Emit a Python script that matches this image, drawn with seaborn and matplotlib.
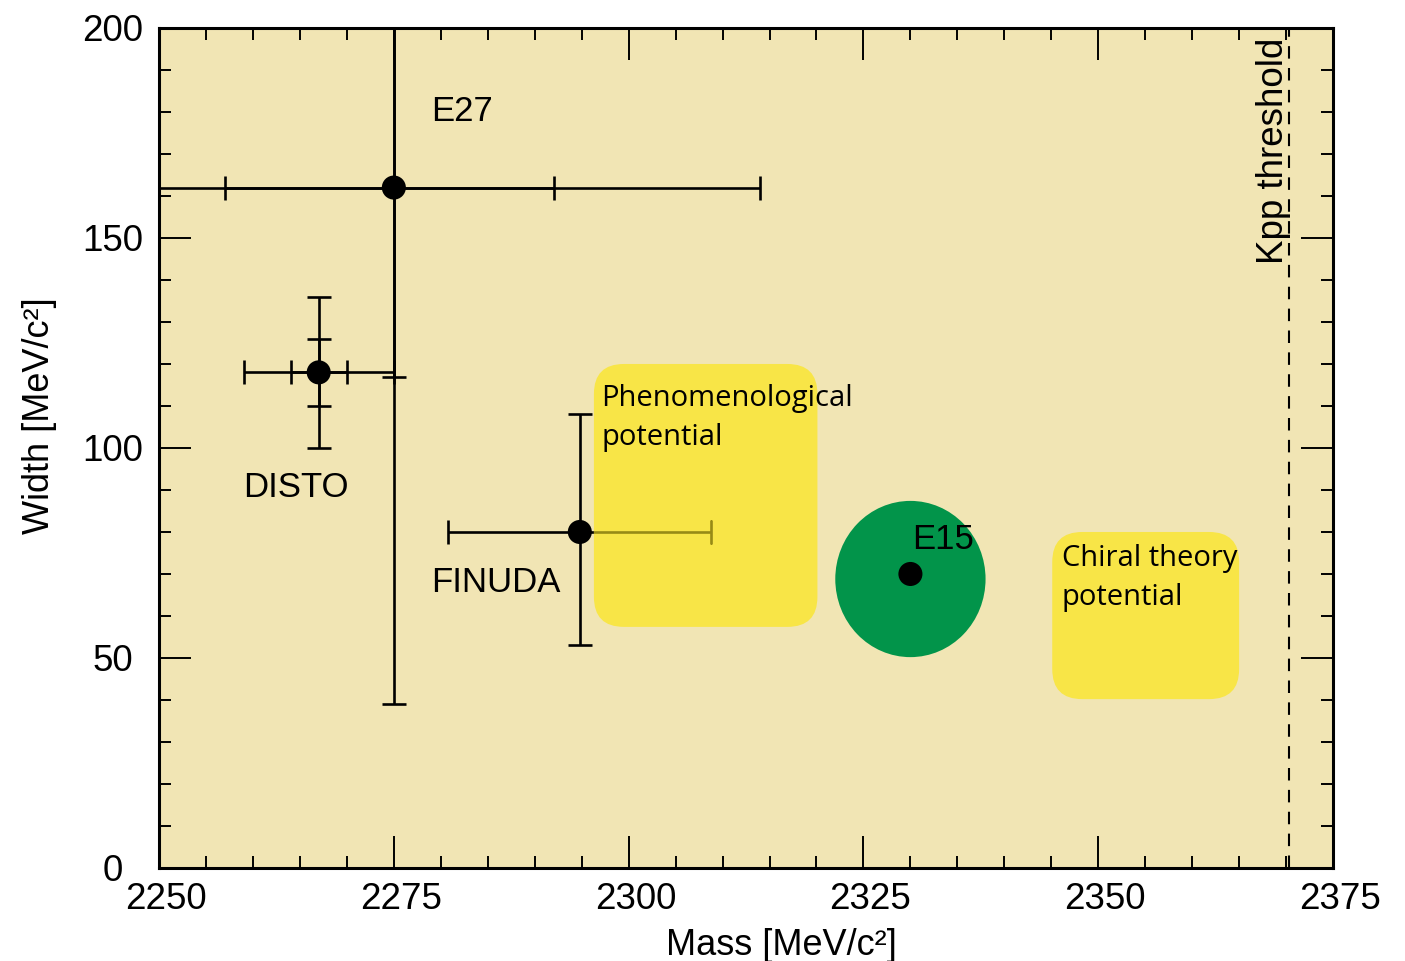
import numpy as np
import pandas as pd
import matplotlib
matplotlib.use("Agg")
import matplotlib.pyplot as plt
import matplotlib.transforms as mtransforms
import seaborn as sns
from matplotlib.patches import FancyBboxPatch, Ellipse
from matplotlib.ticker import MultipleLocator

# ---------------- data ----------------
experiments = ["E27", "DISTO", "FINUDA"]
mass = [2275.0, 2267.0, 2294.8]
width = [162.0, 118.0, 80.0]
# total (stat+syst) errors
mass_err_lo = [48.0, 8.0, 14.0]
mass_err_hi = [39.0, 8.0, 14.0]
width_err_lo = [123.0, 18.0, 27.0]
width_err_hi = [153.0, 18.0, 28.0]
# statistical errors (inner caps)
stat_experiments = ["E27", "DISTO"]
stat_mass = [2275.0, 2267.0]
stat_width = [162.0, 118.0]
stat_mass_lo = [18.0, 3.0]
stat_mass_hi = [17.0, 3.0]
stat_width_lo = [45.0, 8.0]
stat_width_hi = [87.0, 8.0]

e15_mass = [2330.0]
e15_width = [70.0]
e15_region_center = [2330.0, 68.8]
e15_region_halfwidth = [8.0, 18.6]

pheno_mass_range = [2296.3, 2320.1]
pheno_width_range = [57.4, 120.0]
chiral_mass_range = [2345.1, 2365.0]
chiral_width_range = [40.2, 80.0]

kpp_threshold = 2370.3

x_ticks = [2250, 2275, 2300, 2325, 2350, 2375]
y_ticks = [0, 50, 100, 150, 200]

# ---------------- style ----------------
BG = "#F1E5B4"
YELLOW = "#F8E547"
GREEN = "#02944A"
OLIVE = "#978A16"

sns.set_theme(style="ticks")
plt.rcParams["font.family"] = ["Liberation Sans", "DejaVu Sans"]
plt.rcParams["text.color"] = "black"
plt.rcParams["axes.labelcolor"] = "black"

fig = plt.figure(figsize=(14.05, 9.61), dpi=100)
ax = fig.add_axes([0.1132, 0.0968, 0.8356, 0.8741])
ax.set_facecolor(BG)
ax.set_xlim(2250, 2375)
ax.set_ylim(0, 200)

# pixel aspect ratio correction for rounded corners
px_x = 0.8356 * 1405 / 125.0
px_y = 0.8741 * 961 / 200.0
aspect = px_x / px_y
rr = 3.2

df = pd.DataFrame({"exp": experiments, "mass": mass, "width": width,
                   "mlo": mass_err_lo, "mhi": mass_err_hi,
                   "wlo": width_err_lo, "whi": width_err_hi})
sdf = pd.DataFrame({"exp": stat_experiments, "mass": stat_mass, "width": stat_width,
                    "mlo": stat_mass_lo, "mhi": stat_mass_hi,
                    "wlo": stat_width_lo, "whi": stat_width_hi})

eb_kw = dict(fmt="none", ecolor="black", elinewidth=1.9, capsize=8.5, capthick=1.9)

# total error bars
ax.errorbar(df["mass"], df["width"],
            xerr=[df["mlo"], df["mhi"]], yerr=[df["wlo"], df["whi"]],
            zorder=2, **eb_kw)
# statistical error caps
ax.errorbar(sdf["mass"], sdf["width"],
            xerr=[sdf["mlo"], sdf["mhi"]], yerr=[sdf["wlo"], sdf["whi"]],
            zorder=2, **eb_kw)

# theory regions
pheno = FancyBboxPatch((pheno_mass_range[0], pheno_width_range[0]),
                       pheno_mass_range[1] - pheno_mass_range[0],
                       pheno_width_range[1] - pheno_width_range[0],
                       boxstyle=f"round,pad=0,rounding_size={rr}",
                       mutation_aspect=aspect, facecolor=YELLOW,
                       edgecolor="none", zorder=3)
ax.add_patch(pheno)
chiral = FancyBboxPatch((chiral_mass_range[0], chiral_width_range[0]),
                        chiral_mass_range[1] - chiral_mass_range[0],
                        chiral_width_range[1] - chiral_width_range[0],
                        boxstyle=f"round,pad=0,rounding_size={rr}",
                        mutation_aspect=aspect, facecolor=YELLOW,
                        edgecolor="none", zorder=3)
ax.add_patch(chiral)

# FINUDA bar seen through the translucent phenomenological region
fin = df[df["exp"] == "FINUDA"]
eb2 = ax.errorbar(fin["mass"], fin["width"], xerr=[fin["mlo"], fin["mhi"]],
                  fmt="none", ecolor=OLIVE, elinewidth=1.9, capsize=8.5,
                  capthick=1.9, zorder=3.5)
for art in list(eb2.lines[1]) + list(eb2.lines[2]):
    art.set_clip_path(pheno)

# E15 region
ell = Ellipse((e15_region_center[0], e15_region_center[1]),
              2 * e15_region_halfwidth[0], 2 * e15_region_halfwidth[1],
              facecolor=GREEN, edgecolor="none", zorder=3)
ax.add_patch(ell)

# points
pts = pd.DataFrame({"mass": mass + e15_mass, "width": width + e15_width})
sns.scatterplot(data=pts, x="mass", y="width", ax=ax, color="black",
                s=300, edgecolor="none", zorder=6, legend=False)

# Kpp threshold
ax.axvline(kpp_threshold, color="black", lw=1.5, dashes=(6, 4.5), zorder=4)
ax.text(kpp_threshold + 0.25, 197.6, "Kpp threshold", rotation=90,
        ha="right", va="top", fontsize=26.5, color="black", zorder=7)

# labels
lab_kw = dict(fontsize=25, color="black", zorder=7)
ax.text(2279.0, 180.0, "E27", ha="left", va="center", **lab_kw)
ax.text(2258.9, 90.7, "DISTO", ha="left", va="center", **lab_kw)
ax.text(2279.0, 67.9, "FINUDA", ha="left", va="center", **lab_kw)
ax.text(2330.2, 78.3, "E15", ha="left", va="center", **lab_kw)

box_font = ["Open Sans", "DejaVu Sans"]
ax.text(2297.1, 115.2, "Phenomenological\npotential", ha="left", va="top",
        fontsize=21, family=box_font, linespacing=1.45, color="black", zorder=7)
ax.text(2346.1, 77.1, "Chiral theory\npotential", ha="left", va="top",
        fontsize=21, family=box_font, linespacing=1.45, color="black", zorder=7)

# axes styling
ax.set_xticks(x_ticks)
ax.set_yticks(y_ticks)
ax.xaxis.set_minor_locator(MultipleLocator(5))
ax.yaxis.set_minor_locator(MultipleLocator(10))
ax.tick_params(which="both", direction="in", top=True, right=True,
               color="black", labelsize=26.5, labelcolor="black")
ax.tick_params(which="major", length=23, width=1.4)
ax.tick_params(axis="x", which="major", pad=10)
ax.tick_params(axis="y", which="major", pad=33.5)
ax.tick_params(which="minor", length=8.5, width=1.4)
for lab in ax.get_yticklabels():
    lab.set_horizontalalignment("center")
shift = mtransforms.ScaledTranslation(7 / 100.0, 0, fig.dpi_scale_trans)
for lab in ax.get_xticklabels():
    lab.set_transform(lab.get_transform() + shift)
for sp in ax.spines.values():
    sp.set_linewidth(2.2)
    sp.set_color("black")
    sp.set_zorder(8)

ax.set_xlabel("Mass [MeV/c²]", fontsize=26, color="black")
ax.set_ylabel("Width [MeV/c²]", fontsize=26, color="black")
ax.xaxis.set_label_coords(0.530, -0.0714)
ax.yaxis.set_label_coords(-0.087, 0.538)

fig.savefig("out.png", dpi=100, facecolor="white")
